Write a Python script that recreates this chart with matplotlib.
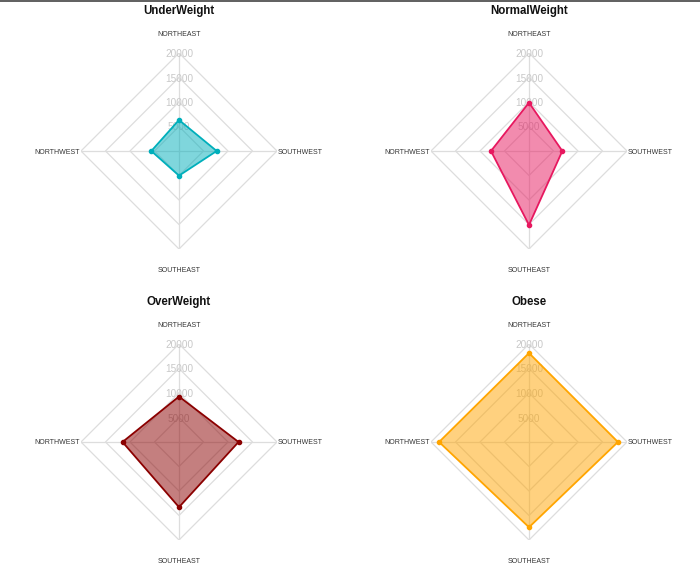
import numpy as np
import matplotlib
matplotlib.use("Agg")
import matplotlib.pyplot as plt

plt.rcParams["font.family"] = ["Liberation Sans", "DejaVu Sans"]

regions = ["NORTHEAST", "SOUTHWEST", "SOUTHEAST", "NORTHWEST"]
groups = ["UnderWeight", "NormalWeight", "OverWeight", "Obese"]

underweight = [6330, 7690, 5030, 5650]
normalweight = [9870, 6800, 15100, 7760]
overweight = [9280, 12150, 13300, 11530]
obese = [18150, 18150, 17400, 18350]

levels = [5000, 10000, 15000, 20000]
colors = ["#00AFBB", "#E7185F", "#8B0000", "#FFA500"]

W, H = 700, 582
fig = plt.figure(figsize=(W / 100, H / 100), dpi=100)

# panel centres in pixels (from top-left), radius of outer ring
centers = [(179, 151), (529, 151), (179, 442), (529, 442)]
R = 98

angles = np.linspace(0, 2 * np.pi, len(regions), endpoint=False)
closed = np.concatenate([angles, angles[:1]])

for name, vals, col, (cx, cy) in zip(groups, [underweight, normalweight, overweight, obese], colors, centers):
    ax = fig.add_axes([(cx - R) / W, (H - cy - R) / H, 2 * R / W, 2 * R / H], projection="polar")
    ax.set_theta_offset(np.pi / 2)
    ax.set_theta_direction(-1)
    ax.set_ylim(0, 20000)
    ax.set_xticks([])
    ax.set_yticks([])
    ax.grid(False)
    ax.spines["polar"].set_visible(False)
    ax.patch.set_visible(False)

    # diamond grid + spokes
    for lv in levels:
        ax.plot(closed, [lv] * len(closed), color="#dddddd", lw=0.9, zorder=1)
    for a in angles:
        ax.plot([a, a], [0, 20000], color="#dddddd", lw=0.9, zorder=1)

    # radial labels on the top axis
    for lv in levels:
        ax.text(0, lv, str(lv), ha="center", va="center_baseline", fontsize=7.2,
                color="#c8c8c8", zorder=2)

    v = list(vals) + [vals[0]]
    ax.fill(closed, v, color=col, alpha=0.5, lw=0, zorder=3)
    ax.plot(closed, v, color=col, lw=1.3, zorder=4)
    ax.scatter(angles, vals, color=col, s=9, zorder=5)

    # category labels
    lab = dict(fontsize=5.0, color="#333333", clip_on=False, va="center_baseline")
    ax.text(angles[0], 24000, regions[0], ha="center", **lab)
    ax.text(angles[2], 24200, regions[2], ha="center", **lab)
    ax.text(angles[1], 20200, regions[1], ha="left", **lab)
    ax.text(angles[3], 20200, regions[3], ha="right", **lab)

    ax.text(0.5, 0.5 + 140 / (2 * R), name, transform=ax.transAxes, ha="center", va="center",
            fontsize=8.3, fontweight="bold", color="#111111")

# thin border line at the top edge
fig.add_artist(plt.Line2D([0, 1], [0.999, 0.999], transform=fig.transFigure, color="#444444", lw=1.2))

fig.savefig("out.png", dpi=100)
